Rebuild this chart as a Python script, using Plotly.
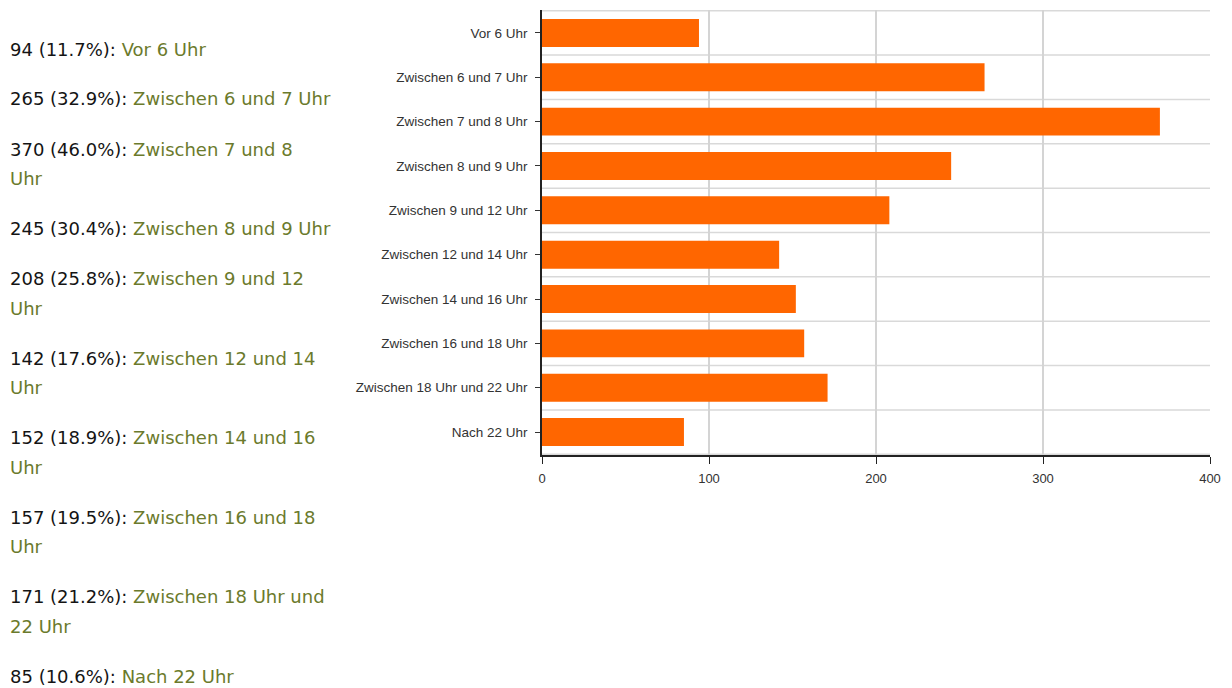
import plotly.graph_objects as go

categories = ["Vor 6 Uhr", "Zwischen 6 und 7 Uhr", "Zwischen 7 und 8 Uhr",
              "Zwischen 8 und 9 Uhr", "Zwischen 9 und 12 Uhr", "Zwischen 12 und 14 Uhr",
              "Zwischen 14 und 16 Uhr", "Zwischen 16 und 18 Uhr",
              "Zwischen 18 Uhr und 22 Uhr", "Nach 22 Uhr"]
counts = [94, 265, 370, 245, 208, 142, 152, 157, 171, 85]
percents = [11.7, 32.9, 46.0, 30.4, 25.8, 17.6, 18.9, 19.5, 21.2, 10.6]
# labels split into lines as wrapped in the left-hand list
list_labels = [["Vor 6 Uhr"], ["Zwischen 6 und 7 Uhr"], ["Zwischen 7 und 8", "Uhr"],
               ["Zwischen 8 und 9 Uhr"], ["Zwischen 9 und 12", "Uhr"],
               ["Zwischen 12 und 14", "Uhr"], ["Zwischen 14 und 16", "Uhr"],
               ["Zwischen 16 und 18", "Uhr"], ["Zwischen 18 Uhr und", "22 Uhr"],
               ["Nach 22 Uhr"]]
x_ticks = [0, 100, 200, 300, 400]

OFF = 8  # page body margin
W, H = 1232 - OFF, 688 - OFF
L, R, T, B = 542 - OFF, 22, 10 - OFF, 233
plot_w = W - L - R
plot_h = H - T - B

fig = go.Figure(go.Bar(
    x=counts, y=categories, orientation="h",
    marker=dict(color="#ff6600", line=dict(width=0)),
    width=0.63, hoverinfo="x+y",
))

# category boundary gridlines
shapes = []
for i in range(len(categories) + 1):
    shapes.append(dict(type="line", xref="paper", yref="y",
                       x0=0, x1=1, y0=i - 0.5, y1=i - 0.5,
                       line=dict(color="#d9d9d9", width=1.5), layer="below"))

annotations = []
line_h = 29.5
gap = 20.5
ypix = 49  # screen y of first text line centre
FONT = dict(family="DejaVu Sans", size=18)


def add_text(txt, yscreen):
    yfig = yscreen - OFF
    annotations.append(dict(
        text=txt, xref="paper", yref="paper",
        x=(8 - OFF - L) / plot_w, y=1 - (yfig - T) / plot_h,
        xanchor="left", yanchor="middle", align="left", showarrow=False,
        font=FONT,
    ))


for c, p, lines in zip(counts, percents, list_labels):
    first = (f"<span style='color:#141414'>{c} ({p:.1f}%): </span>"
             f"<span style='color:#6b7a2c'>{lines[0]}</span>")
    add_text(first, ypix)
    for k, ln in enumerate(lines[1:], start=1):
        add_text(f"<span style='color:#6b7a2c'>{ln}</span>", ypix + k * line_h)
    ypix += len(lines) * line_h + gap

fig.update_layout(
    width=W, height=H, margin=dict(l=L, r=R, t=T, b=B, pad=0),
    paper_bgcolor="white", plot_bgcolor="white",
    showlegend=False, shapes=shapes, annotations=annotations,
    xaxis=dict(range=[0, 400], tickvals=x_ticks, ticks="outside", ticklen=7,
               tickcolor="#222", showline=True, linecolor="#222", linewidth=1.5,
               showgrid=True, gridcolor="#d4d4d4", gridwidth=1.5, zeroline=False,
               ticklabelstandoff=4,
               tickfont=dict(family="Liberation Sans", size=13, color="#333")),
    yaxis=dict(autorange="reversed", ticks="outside", ticklen=5, tickcolor="#333",
               showline=True, linecolor="#222", linewidth=1.5, showgrid=False,
               ticklabelstandoff=5,
               tickfont=dict(family="Liberation Sans", size=13.5, color="#333")),
)

fig.write_html("out.html")
